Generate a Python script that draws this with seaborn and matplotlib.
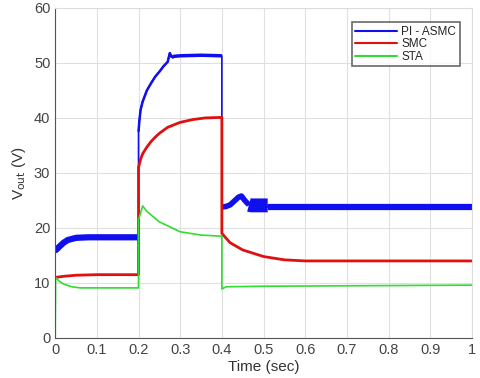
import pandas as pd
import seaborn as sns
import matplotlib
matplotlib.use("Agg")
import matplotlib.pyplot as plt

# values (time in s, voltage in V)
t_asmc = [0, 0.002, 0.01, 0.02, 0.03, 0.05, 0.08, 0.12, 0.2,
          0.2, 0.202, 0.205, 0.21, 0.22, 0.23, 0.24, 0.25, 0.26, 0.27, 0.275, 0.28,
          0.28, 0.285, 0.3, 0.35, 0.4,
          0.4, 0.41, 0.42, 0.43, 0.44, 0.447, 0.455, 0.465,
          0.465, 0.47, 0.51,
          0.51, 0.55, 1.0]
v_asmc = [16.6, 16.0, 16.6, 17.3, 17.8, 18.2, 18.3, 18.3, 18.3,
          37.5, 39.5, 41.5, 43.0, 45.0, 46.3, 47.5, 48.4, 49.4, 50.2, 51.8, 51.0,
          51.0, 51.2, 51.3, 51.4, 51.3,
          23.8, 23.9, 24.2, 24.9, 25.6, 25.8, 25.0, 24.2,
          24.2, 24.1, 24.1,
          23.8, 23.8, 23.8]
# which drawn band each point belongs to (different ripple thickness)
band_asmc = [1] * 9 + [2] * 12 + [3] * 5 + [4] * 8 + [5] * 3 + [6] * 3
band_width = {1: 4.5, 2: 1.8, 3: 2.5, 4: 4.0, 5: 10.0, 6: 4.5}

t_smc = [0, 0.02, 0.05, 0.1, 0.2, 0.2, 0.205, 0.21, 0.22, 0.23, 0.24, 0.25, 0.27, 0.3,
         0.33, 0.36, 0.4, 0.4, 0.42, 0.45, 0.5, 0.55, 0.6, 1.0]
v_smc = [11.0, 11.2, 11.4, 11.5, 11.5, 31.0, 32.5, 33.5, 34.7, 35.7, 36.5, 37.2, 38.3, 39.2,
         39.7, 40.0, 40.1, 19.0, 17.3, 16.0, 14.8, 14.2, 14.0, 14.0]

t_sta = [0, 0.001, 0.01, 0.02, 0.04, 0.06, 0.1, 0.2, 0.2, 0.21, 0.22, 0.25, 0.3, 0.35,
         0.4, 0.4, 0.41, 0.5, 1.0]
v_sta = [0.0, 11.0, 10.3, 9.8, 9.3, 9.1, 9.1, 9.1, 21.5, 24.0, 23.0, 21.1, 19.3, 18.7,
         18.5, 8.9, 9.3, 9.4, 9.6]

names = ["PI - ASMC", "SMC", "STA"]
colors = ["#1010ee", "#e01010", "#30dd30"]

sns.set_style("whitegrid")
plt.rcParams["font.family"] = ["Liberation Sans", "DejaVu Sans"]

fig = plt.figure(figsize=(4.8, 3.78), dpi=100)
ax = fig.add_axes([0.115, 0.106, 0.868, 0.873])

asmc = pd.DataFrame({"t": t_asmc, "v": v_asmc, "band": band_asmc})
sns.lineplot(data=asmc, x="t", y="v", ax=ax, color=colors[0], linewidth=1.2,
             label=names[0], estimator=None, sort=False)
for b, lw in band_width.items():
    sns.lineplot(data=asmc[asmc.band == b], x="t", y="v", ax=ax, color=colors[0],
                 linewidth=lw, estimator=None, sort=False, legend=False,
                 solid_capstyle="butt")

sns.lineplot(x=t_smc, y=v_smc, ax=ax, color=colors[1], linewidth=2.0, label=names[1],
             estimator=None, sort=False)
sns.lineplot(x=t_sta, y=v_sta, ax=ax, color=colors[2], linewidth=1.2, label=names[2],
             estimator=None, sort=False)

ax.set_xlim(0, 1)
ax.set_ylim(0, 60)
ax.set_xticks([i / 10 for i in range(11)])
ax.set_xticklabels(["0", "0.1", "0.2", "0.3", "0.4", "0.5", "0.6", "0.7", "0.8", "0.9", "1"])
ax.set_yticks(range(0, 61, 10))
ax.grid(True, color="#e0e0e0", linewidth=0.8)
ax.tick_params(labelsize=10.5, colors="#444444", length=3, direction="in")
for side in ["left", "bottom"]:
    ax.spines[side].set_color("#555555")
for side in ["top", "right"]:
    ax.spines[side].set_color("#dddddd")
ax.set_xlabel("Time (sec)", fontsize=11, color="#333333", labelpad=2)
ax.set_ylabel(r"V$_{\rm out}$ (V)", fontsize=11, color="#333333", labelpad=4)

leg = ax.legend(loc="upper right", bbox_to_anchor=(0.985, 0.975), fontsize=8.5,
                frameon=True, fancybox=False, handlelength=3.5, borderpad=0.3,
                labelspacing=0.05, handletextpad=0.4)
leg.get_frame().set_edgecolor("#444444")
leg.get_frame().set_linewidth(1.2)
for line in leg.get_lines():
    line.set_linewidth(1.5)

fig.savefig("out.png", dpi=100)
